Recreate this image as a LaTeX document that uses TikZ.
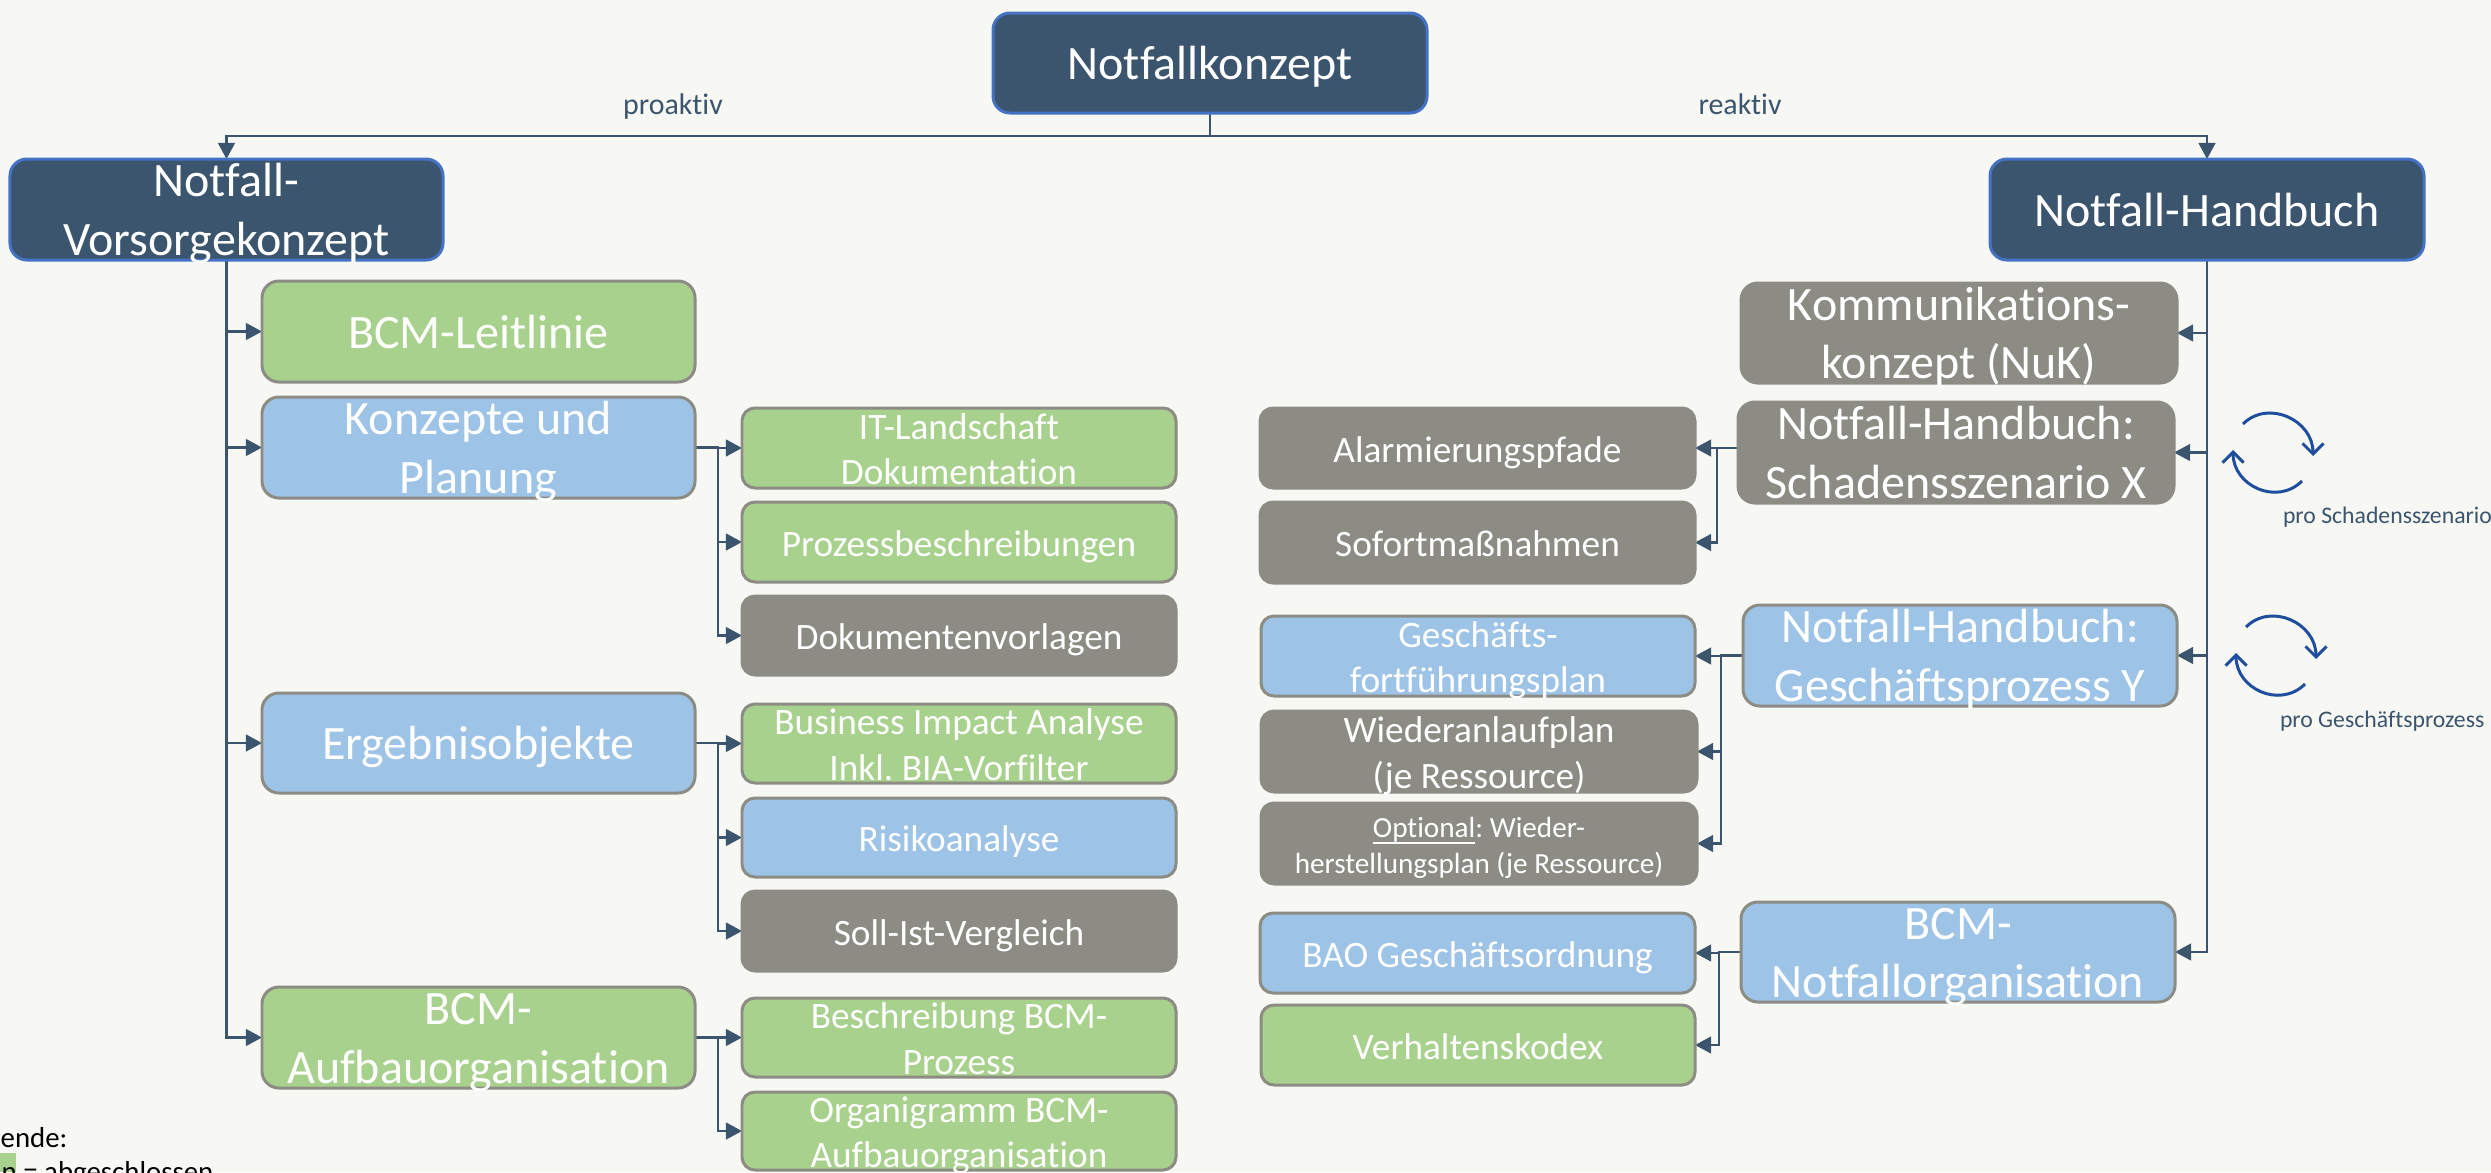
\documentclass[tikz,border=0pt]{standalone}
\usepackage{fontspec}
\setmainfont{Carlito}[Ligatures=NoCommon]
\usetikzlibrary{arrows.meta}
\definecolor{bgc}{HTML}{F7F8F3}
\definecolor{navyc}{HTML}{3C556E}
\definecolor{navyb}{HTML}{4472C4}
\definecolor{greenc}{HTML}{A9D18E}
\definecolor{bluec}{HTML}{9DC3E6}
\definecolor{grayc}{HTML}{8C8C85}
\definecolor{cycc}{HTML}{1F4E9E}
\pgfdeclarelayer{conn}
\pgfsetlayers{conn,main}
\frenchspacing
\newsavebox{\ctbox}
\newcommand\ct[1]{\sbox{\ctbox}{\begin{tabular}{@{}c@{}}#1\end{tabular}}\raisebox{\dimexpr(\dp\ctbox-\ht\ctbox)/2-1.4pt}[0pt][0pt]{\usebox{\ctbox}}}
\newcommand\bx[7]{%
  \pgfmathsetmacro{\bxw}{(#5-#3)*0.01}%
  \pgfmathsetmacro{\bxh}{(#6-#4)*0.01}%
  \node[#1,minimum width=\bxw cm,minimum height=\bxh cm] (#2) at ({(#3+#5)/2},{(#4+#6)/2}) {\ct{#7}};}
\tikzset{
  x=0.01cm,y=-0.01cm,
  basebox/.style={draw,rounded corners=3.7pt,inner sep=0pt,outer sep=0pt,line width=0.85pt,text=white},
  bigt/.style={font=\fontsize{13.65}{16.6}\selectfont,rounded corners=4.8pt},
  midt/.style={font=\fontsize{10.6}{12.9}\selectfont},
  navy/.style={basebox,bigt,fill=navyc,draw=navyb},
  greenb/.style={basebox,fill=greenc,draw=grayc},
  blueb/.style={basebox,fill=bluec,draw=grayc},
  grayb/.style={basebox,fill=grayc,draw=grayc},
  conn/.style={draw=navyc,line width=0.6pt,-{Triangle[length=4.6pt,width=4.8pt,fill=navyc]}},
  line/.style={draw=navyc,line width=0.6pt},
  lab/.style={text=navyc,font=\fontsize{8.5}{10.4}\selectfont,inner sep=0pt,outer sep=0pt,anchor=base},
  lab2/.style={lab,font=\fontsize{6.75}{8.2}\selectfont,anchor=base west},
  leg/.style={anchor=base west,inner sep=0pt,font=\fontsize{8.2}{10}\selectfont,text=black},
  cyc/.pic={
    \draw[draw=cycc,line width=0.85pt,-{Straight Barb[length=3pt,width=6pt]}]
      (-30,-29) .. controls (-5,-54) and (40,-33) .. (40,3);
    \draw[draw=cycc,line width=0.85pt,-{Straight Barb[length=3pt,width=6pt]}]
      (29,28) .. controls (4,53) and (-40,33) .. (-40,-3);
  }
}
\begin{document}
\begin{tikzpicture}
\useasboundingbox (0,0) rectangle (2491,1172);
\begin{pgfonlayer}{conn}
\fill[bgc] (0,0) rectangle (2491,1172);
\end{pgfonlayer}
\bx{navy}{root}{993}{13}{1427}{113}{Notfallkonzept}
\bx{navy}{vor}{10}{159}{443}{260}{Notfall-\\Vorsorgekonzept}
\bx{navy}{hand}{1990}{159}{2424}{260}{Notfall-Handbuch}
% left column 1
\bx{greenb,bigt}{leit}{262}{281}{695}{382}{BCM-Leitlinie}
\bx{blueb,bigt}{konz}{262}{397}{695}{498}{Konzepte und\\Planung}
\bx{blueb,bigt}{erg}{262}{693}{695}{793}{Ergebnisobjekte}
\bx{greenb,bigt}{auf}{262}{987}{695}{1088}{BCM-\\Aufbauorganisation}
% left column 2
\bx{greenb,midt}{it}{742}{408}{1176}{488}{IT-Landschaft\\Dokumentation}
\bx{greenb,midt}{proz}{742}{502}{1176}{582}{Prozessbeschreibungen}
\bx{grayb,midt}{dok}{742}{596}{1176}{675}{Dokumentenvorlagen}
\bx{greenb,midt}{bia}{742}{704}{1176}{783}{Business Impact Analyse\\Inkl. BIA-Vorfilter}
\bx{blueb,midt}{ris}{742}{798}{1176}{877}{Risikoanalyse}
\bx{grayb,midt}{soll}{742}{891}{1176}{971}{Soll-Ist-Vergleich}
\bx{greenb,midt}{bes}{742}{998}{1176}{1077}{Beschreibung BCM-\\Prozess}
\bx{greenb,midt}{org}{742}{1092}{1176}{1170}{Organigramm BCM-\\Aufbauorganisation}
% right column 1
\bx{grayb,bigt}{kom}{1741}{283}{2177}{383}{Kommunikations-\\konzept (NuK)}
\bx{grayb,bigt}{sch}{1738}{402}{2174}{503}{Notfall-Handbuch:\\Schadensszenario X}
\bx{blueb,bigt}{ges}{1743}{605}{2177}{706}{Notfall-Handbuch:\\Geschäftsprozess Y}
\bx{blueb,bigt}{nor}{1741}{902}{2175}{1002}{BCM-\\Notfallorganisation}
% right column 2
\bx{grayb,midt}{ala}{1260}{408}{1695}{488}{Alarmierungspfade}
\bx{grayb,midt}{sof}{1260}{502}{1695}{583}{Sofortmaßnahmen}
\bx{blueb,midt}{fort}{1261}{616}{1695}{696}{Geschäfts-\\fortführungsplan}
\bx{grayb,midt}{wan}{1261}{711}{1697}{792}{Wiederanlaufplan\\(je Ressource)}
\bx{grayb,font=\fontsize{8.3}{10}\selectfont}{opt}{1261}{803}{1697}{884}{\underline{\smash{Optional}}: Wieder-\\herstellungsplan (je Ressource)}
\bx{blueb,midt}{bao}{1260}{913}{1695}{993}{BAO Geschäftsordnung}
\bx{greenb,midt}{kod}{1261}{1005}{1695}{1085}{Verhaltenskodex}
% free labels
\node[lab] (lpro) at (673,114) {proaktiv};
\node[lab] (lrea) at (1740,114) {reaktiv};
\node[lab2] (lsch) at (2283,523) {pro Schadensszenario};
\node[lab2] (lgp) at (2280,727) {pro Geschäftsprozess};
\node[leg] (leg) at (0,1147) {ende:};
% legend swatch
\fill[greenc] (0,1153) rectangle (16,1172);
\node[leg] (leg2) at (1,1181) {n = abgeschlossen};
\pic (c1) at (2273,453) {cyc};
\pic (c2) at (2276,656) {cyc};
\begin{pgfonlayer}{conn}
\coordinate (rootj) at ([yshift=-0.23cm]root.south);
\draw[line] (root.south) -- (rootj);
\draw[conn] (rootj) -| (vor.north);
\draw[conn] (rootj) -| (hand.north);
\foreach \t in {leit,konz,erg,auf} \draw[conn] (vor.south) |- (\t.west);
\foreach \t in {kom,sch,ges,nor} \draw[conn] (hand.south) |- (\t.east);
\foreach \s/\t in {konz/it,konz/proz,konz/dok,erg/bia,erg/ris,erg/soll,auf/bes,auf/org}
  \draw[conn] (\s.east) -- ([xshift=0.23cm]\s.east) |- (\t.west);
\coordinate (schs) at (sch.west |- ala.east);
\foreach \t in {ala,sof}
  \draw[conn] (schs) -- ([xshift=-0.21cm]schs) |- (\t.east);
\foreach \s/\t in {ges/fort,ges/wan,ges/opt,nor/bao,nor/kod}
  \draw[conn] (\s.west) -- ([xshift=-0.22cm]\s.west) |- (\t.east);
\end{pgfonlayer}
\end{tikzpicture}
\end{document}
